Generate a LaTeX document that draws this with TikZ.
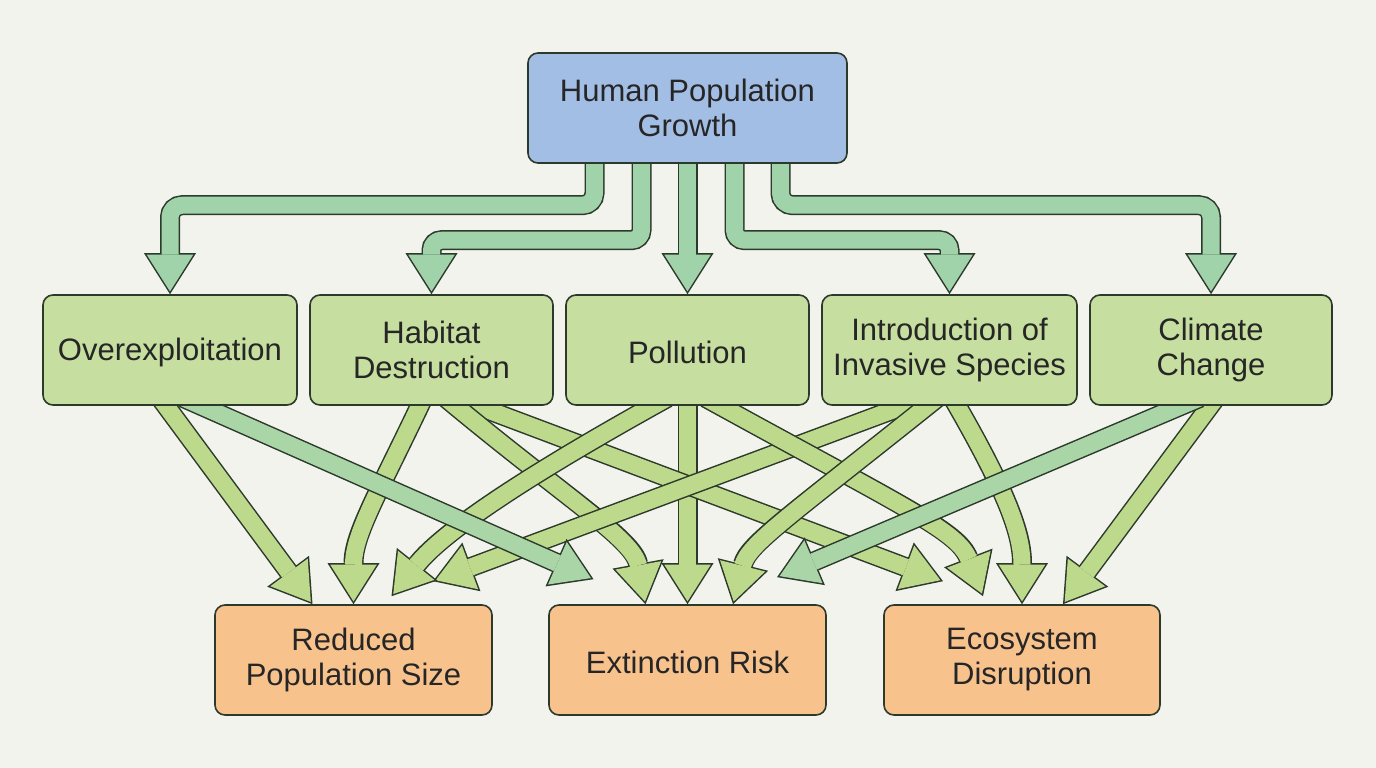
\documentclass[tikz,border=0pt]{standalone}
\usepackage{fontspec}
\setmainfont{Liberation Sans}
\usetikzlibrary{arrows.meta,positioning,backgrounds}
\definecolor{bgpaper}{HTML}{F3F3EE}
\definecolor{edark}{HTML}{2C3A2C}
\definecolor{hpblue}{HTML}{A3BEE5}
\definecolor{drvgreen}{HTML}{C6DEA0}
\definecolor{outorange}{HTML}{F8C28D}
\definecolor{arrmint}{HTML}{A0D3AA}
\definecolor{arrlime}{HTML}{BDD98B}
\definecolor{arrsea}{HTML}{AAD5A6}

\begin{document}
\begin{tikzpicture}[x=1pt, y=-1pt,
  box/.style={draw=edark, line width=1.6pt, rounded corners=10pt, align=center, minimum height=110pt,
    font=\fontsize{31}{35}\selectfont, text=black!85, inner sep=0pt,
    execute at begin node={\rule{0pt}{28pt}}},
  fat/.style={line width=17pt, draw=#1, line join=round, shorten >=2.8pt,
    -{Triangle[length=36.7pt,width=46.5pt,line width=0pt]},
    preaction={draw=edark, line width=20pt, shorten >=0pt,
      -{Triangle[length=41pt,width=52pt,line width=0pt]}}}
]
\useasboundingbox (0,0) rectangle (1376,768);

% Root cause
\node[box,fill=hpblue,minimum width=319pt] (growth) at (687.5,108) {Human Population\\Growth};

% Drivers
\node[box,fill=drvgreen,minimum width=254pt] (overex) at (170,350) {Overexploitation};
\node[box,fill=drvgreen,minimum width=243pt] (habitat) at (431.5,350) {Habitat\\Destruction};
\node[box,fill=drvgreen,minimum width=243pt] (pollut) at (687.5,350) {Pollution};
\node[box,fill=drvgreen,minimum width=255pt] (invasive) at (949.5,350) {Introduction of\\Invasive Species};
\node[box,fill=drvgreen,minimum width=242pt] (climate) at (1211,350) {Climate\\Change};

% Outcomes
\node[box,fill=outorange,minimum width=277pt] (popsize) at (353.5,660) {Reduced\\Population Size};
\node[box,fill=outorange,minimum width=277pt] (extinct) at (687.5,660) {Extinction Risk};
\node[box,fill=outorange,minimum width=276pt] (ecosys) at (1022,660) {Ecosystem\\Disruption};

\begin{scope}[on background layer]
\fill[bgpaper] (0,0) rectangle (1376,768);

% Growth to drivers
\draw[fat=arrmint,rounded corners=12pt] ([xshift=-93pt,yshift=6pt]growth.south) |- ([yshift=89pt]overex.north) -- (overex.north);
\draw[fat=arrmint,rounded corners=10pt] ([xshift=-46pt,yshift=6pt]growth.south) |- ([yshift=54pt]habitat.north) -- (habitat.north);
\draw[fat=arrmint] ([yshift=6pt]growth.south) -- (pollut.north);
\draw[fat=arrmint,rounded corners=10pt] ([xshift=47pt,yshift=6pt]growth.south) |- ([yshift=54pt]invasive.north) -- (invasive.north);
\draw[fat=arrmint,rounded corners=12pt] ([xshift=93pt,yshift=6pt]growth.south) |- ([yshift=89pt]climate.north) -- (climate.north);

% Drivers to outcomes
\draw[fat=arrlime] ([yshift=8pt]pollut.south) -- (extinct.north);
\draw[fat=arrlime] ([xshift=-10pt,yshift=8pt]overex.south) -- ([xshift=-41pt]popsize.north);
\draw[fat=arrlime] ([xshift=-8pt,yshift=8pt]habitat.south) .. controls +(-45,95) and +(0,-70) .. (popsize.north);
\draw[fat=arrlime] ([xshift=24pt,yshift=8pt]habitat.south) -- ([xshift=-79pt,yshift=23pt]ecosys.north);
\draw[fat=arrlime] ([xshift=14pt,yshift=8pt]habitat.south) .. controls +(120,100) and +(-12,-65) .. ([xshift=-42pt]extinct.north);
\draw[fat=arrlime] ([xshift=-24pt,yshift=8pt]invasive.south) -- ([xshift=79.5pt,yshift=23pt]popsize.north);
\draw[fat=arrlime] ([xshift=-20pt,yshift=8pt]pollut.south) .. controls +(-190,105) and +(40,-50) .. ([xshift=38pt,yshift=8pt]popsize.north);
\draw[fat=arrlime] ([xshift=18pt,yshift=8pt]pollut.south) .. controls +(200,110) and +(-25,-65) .. ([xshift=-39pt,yshift=8pt]ecosys.north);
\draw[fat=arrlime] ([xshift=-12pt,yshift=8pt]invasive.south) .. controls +(-150,120) and +(15,-60) .. ([xshift=45.5pt]extinct.north);
\draw[fat=arrlime] ([xshift=3pt,yshift=8pt]invasive.south) .. controls +(55,95) and +(0,-70) .. (ecosys.north);
\draw[fat=arrlime] ([xshift=5pt,yshift=8pt]climate.south) -- ([xshift=41pt]ecosys.north);
\draw[fat=arrsea] ([xshift=13pt,yshift=8pt]overex.south) -- ([xshift=-94pt,yshift=25pt]extinct.north);
\draw[fat=arrsea] ([xshift=-11pt,yshift=8pt]climate.south) -- ([xshift=89.5pt,yshift=27pt]extinct.north);
\end{scope}
\end{tikzpicture}
\end{document}
